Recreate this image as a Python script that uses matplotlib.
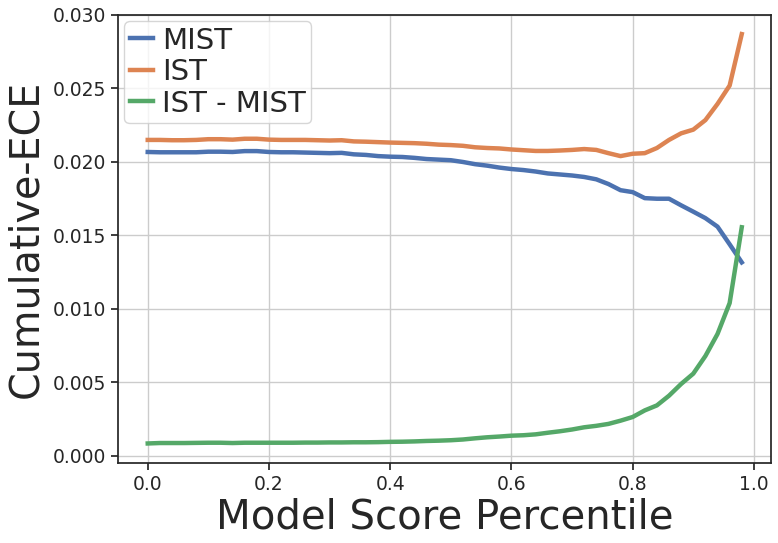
#!/usr/bin/env python3
"""Cumulative ECE of MIST vs IST across model score percentiles."""

import numpy as np
import matplotlib
matplotlib.use("Agg")
import matplotlib.pyplot as plt

# percentile grid (every 0.02 from 0.00 to 0.98)
percentile = np.round(np.arange(50) * 0.02, 2)

mist_ece = [
    0.02068, 0.02066, 0.02066, 0.02066, 0.02066, 0.02070, 0.02070, 0.02068, 0.02074, 0.02074,
    0.02068, 0.02066, 0.02066, 0.02064, 0.02062, 0.02060, 0.02062, 0.02052, 0.02048, 0.02040,
    0.02036, 0.02034, 0.02028, 0.02020, 0.02016, 0.02012, 0.02000, 0.01985, 0.01975, 0.01962,
    0.01952, 0.01945, 0.01935, 0.01922, 0.01915, 0.01908, 0.01898, 0.01882, 0.01850, 0.01808,
    0.01795, 0.01754, 0.01750, 0.01750, 0.01705, 0.01662, 0.01618, 0.01560, 0.01440, 0.01317,
]

ist_ece = [
    0.02150, 0.02150, 0.02148, 0.02148, 0.02150, 0.02155, 0.02155, 0.02152, 0.02158, 0.02158,
    0.02152, 0.02150, 0.02150, 0.02150, 0.02148, 0.02146, 0.02148, 0.02140, 0.02138, 0.02135,
    0.02132, 0.02130, 0.02128, 0.02124, 0.02118, 0.02115, 0.02110, 0.02100, 0.02095, 0.02092,
    0.02085, 0.02080, 0.02075, 0.02075, 0.02078, 0.02082, 0.02088, 0.02082, 0.02060, 0.02040,
    0.02056, 0.02060, 0.02095, 0.02150, 0.02195, 0.02220, 0.02285, 0.02395, 0.02520, 0.02870,
]

diff_ece = [
    0.00085, 0.00088, 0.00088, 0.00088, 0.00089, 0.00090, 0.00090, 0.00088, 0.00090, 0.00090,
    0.00090, 0.00090, 0.00090, 0.00091, 0.00091, 0.00092, 0.00092, 0.00093, 0.00093, 0.00094,
    0.00096, 0.00097, 0.00099, 0.00102, 0.00104, 0.00107, 0.00112, 0.00120, 0.00127, 0.00132,
    0.00138, 0.00141, 0.00147, 0.00158, 0.00168, 0.00180, 0.00195, 0.00205, 0.00218, 0.00240,
    0.00265, 0.00310, 0.00344, 0.00410, 0.00490, 0.00560, 0.00680, 0.00830, 0.01040, 0.01556,
]

series_labels = ["MIST", "IST", "IST - MIST"]
series_colors = ["#4C72B0", "#DD8452", "#55A868"]

plt.rcParams.update({
    "axes.edgecolor": "0.15",
    "axes.labelcolor": "0.15",
    "text.color": "0.15",
    "xtick.color": "0.15",
    "ytick.color": "0.15",
    "grid.color": "0.8",
    "axes.linewidth": 1.25,
})

fig = plt.figure(figsize=(7.78, 5.43), dpi=100)
ax = fig.add_axes([0.1517, 0.1473, 0.8399, 0.8251])

for values, label, color in zip([mist_ece, ist_ece, diff_ece], series_labels, series_colors):
    ax.plot(percentile, values, color=color, lw=3.2, label=label)

ax.grid(True, lw=1)
ax.set_axisbelow(True)
ax.set_xticks([0.0, 0.2, 0.4, 0.6, 0.8, 1.0])
ax.set_yticks(np.arange(0, 0.0301, 0.005))
ax.yaxis.set_major_formatter(matplotlib.ticker.FormatStrFormatter("%.3f"))
ax.tick_params(labelsize=13.5, length=5, width=1.25)
ax.set_ylim(-0.00048, 0.0300)

ax.set_xlabel("Model Score Percentile", fontsize=29, labelpad=3)
ax.set_ylabel("Cumulative-ECE", fontsize=28.5, labelpad=5)

ax.legend(loc="upper left", fontsize=21, handlelength=0.8, handletextpad=0.3,
          borderaxespad=0.2, borderpad=0.2, labelspacing=0.12,
          edgecolor="0.8", framealpha=0.8)

fig.savefig("out.png", dpi=100)
